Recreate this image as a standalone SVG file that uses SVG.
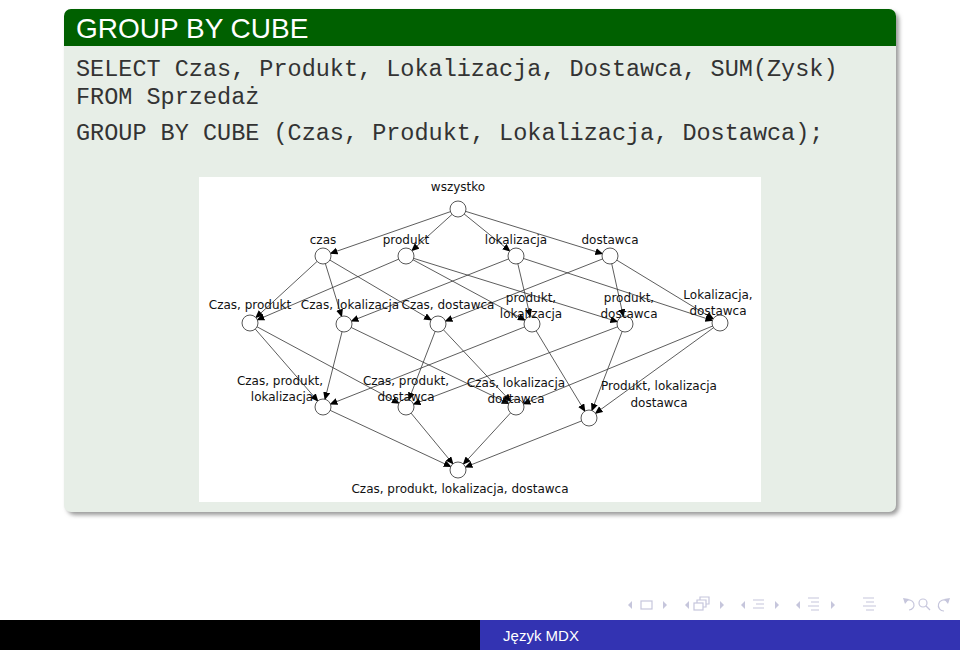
<svg xmlns="http://www.w3.org/2000/svg" width="960" height="650" viewBox="0 0 960 650">
<defs>
<marker id="arr" markerUnits="userSpaceOnUse" markerWidth="20" markerHeight="10" refX="15" refY="3.5" orient="auto">
<path d="M0,0 L8,3.5 L0,7 z" fill="#000"/>
</marker>
<filter id="sh" x="-5%" y="-5%" width="110%" height="110%"><feGaussianBlur stdDeviation="2"/></filter>
<style>
.code{font-family:"Liberation Mono","Courier New",monospace;font-size:23.5px;fill:#333}
.lbl{font-family:"DejaVu Sans","Liberation Sans",sans-serif;font-size:12px;fill:#111;text-anchor:middle}
.n{fill:#fff;stroke:#444;stroke-width:0.9}
.e{stroke:#333;stroke-width:0.8;fill:none;marker-end:url(#arr)}
.nav{fill:none;stroke:#c6c6dc;stroke-width:1.2}
.navf{fill:#c6c6dc}
</style>
</defs>
<rect width="960" height="650" fill="#fff"/>
<!-- block -->
<rect x="67" y="12" width="832" height="503" rx="8" fill="#9a9a9a" filter="url(#sh)"/>
<rect x="64" y="9" width="832" height="503" rx="7" fill="#e7eee7"/>
<path d="M64,46 V16 a7,7 0 0 1 7,-7 H889 a7,7 0 0 1 7,7 V46 z" fill="#006000"/>
<text x="76" y="38" font-family="Liberation Sans,Arial,sans-serif" font-size="28" fill="#fff">GROUP BY CUBE</text>
<text class="code" x="76" y="76">SELECT Czas, Produkt, Lokalizacja, Dostawca, SUM(Zysk)</text>
<text class="code" x="76" y="104">FROM Sprzedaż</text>
<text class="code" x="76" y="140">GROUP BY CUBE (Czas, Produkt, Lokalizacja, Dostawca);</text>
<!-- diagram area -->
<rect x="199" y="177" width="562" height="325" fill="#fff"/>
<g id="connectors">
<line class="e" x1="458" y1="209" x2="323" y2="256"/>
<line class="e" x1="458" y1="209" x2="406" y2="256"/>
<line class="e" x1="458" y1="209" x2="516" y2="256"/>
<line class="e" x1="458" y1="209" x2="610" y2="256"/>
<line class="e" x1="323" y1="256" x2="250" y2="323"/>
<line class="e" x1="323" y1="256" x2="344" y2="324"/>
<line class="e" x1="323" y1="256" x2="438" y2="324"/>
<line class="e" x1="406" y1="256" x2="250" y2="323"/>
<line class="e" x1="406" y1="256" x2="532" y2="324"/>
<line class="e" x1="406" y1="256" x2="625" y2="324"/>
<line class="e" x1="516" y1="256" x2="344" y2="324"/>
<line class="e" x1="516" y1="256" x2="532" y2="324"/>
<line class="e" x1="516" y1="256" x2="720" y2="323"/>
<line class="e" x1="610" y1="256" x2="438" y2="324"/>
<line class="e" x1="610" y1="256" x2="625" y2="324"/>
<line class="e" x1="610" y1="256" x2="720" y2="323"/>
<line class="e" x1="250" y1="323" x2="323" y2="407"/>
<line class="e" x1="250" y1="323" x2="406" y2="407"/>
<line class="e" x1="344" y1="324" x2="323" y2="407"/>
<line class="e" x1="344" y1="324" x2="516" y2="407"/>
<line class="e" x1="438" y1="324" x2="406" y2="407"/>
<line class="e" x1="438" y1="324" x2="516" y2="407"/>
<line class="e" x1="532" y1="324" x2="323" y2="407"/>
<line class="e" x1="532" y1="324" x2="589" y2="418"/>
<line class="e" x1="625" y1="324" x2="406" y2="407"/>
<line class="e" x1="625" y1="324" x2="589" y2="418"/>
<line class="e" x1="720" y1="323" x2="516" y2="407"/>
<line class="e" x1="720" y1="323" x2="589" y2="418"/>
<line class="e" x1="323" y1="407" x2="458" y2="470"/>
<line class="e" x1="406" y1="407" x2="458" y2="470"/>
<line class="e" x1="516" y1="407" x2="458" y2="470"/>
<line class="e" x1="589" y1="418" x2="458" y2="470"/>
</g>
<g id="n_wszystko"><circle class="n" cx="458" cy="209" r="8"/><text class="lbl" x="458" y="191">wszystko</text></g>
<g id="n_czas"><circle class="n" cx="323" cy="256" r="8"/><text class="lbl" x="323" y="244">czas</text></g>
<g id="n_produkt"><circle class="n" cx="406" cy="256" r="8"/><text class="lbl" x="406" y="244">produkt</text></g>
<g id="n_lokalizacja"><circle class="n" cx="516" cy="256" r="8"/><text class="lbl" x="516" y="244">lokalizacja</text></g>
<g id="n_dostawca"><circle class="n" cx="610" cy="256" r="8"/><text class="lbl" x="610" y="244">dostawca</text></g>
<g id="n_cp"><circle class="n" cx="250" cy="323" r="8"/><text class="lbl" x="250" y="309">Czas, produkt</text></g>
<g id="n_cl"><circle class="n" cx="344" cy="324" r="8"/><text class="lbl" x="350" y="309">Czas, lokalizacja</text></g>
<g id="n_cd"><circle class="n" cx="438" cy="324" r="8"/><text class="lbl" x="448" y="309">Czas, dostawca</text></g>
<g id="n_pl"><circle class="n" cx="532" cy="324" r="8"/><text class="lbl" x="531" y="302">produkt,</text><text class="lbl" x="531" y="318">lokalizacja</text></g>
<g id="n_pd"><circle class="n" cx="625" cy="324" r="8"/><text class="lbl" x="629" y="302">produkt,</text><text class="lbl" x="629" y="318">dostawca</text></g>
<g id="n_ld"><circle class="n" cx="720" cy="323" r="8"/><text class="lbl" x="718" y="299">Lokalizacja,</text><text class="lbl" x="718" y="315">dostawca</text></g>
<g id="n_cpl"><circle class="n" cx="323" cy="407" r="8"/><text class="lbl" x="280" y="385">Czas, produkt,</text><text class="lbl" x="282" y="401">lokalizacja</text></g>
<g id="n_cpd"><circle class="n" cx="406" cy="407" r="8"/><text class="lbl" x="406" y="385">Czas, produkt,</text><text class="lbl" x="406" y="401">dostawca</text></g>
<g id="n_cld"><circle class="n" cx="516" cy="407" r="8"/><text class="lbl" x="516" y="387">Czas, lokalizacja</text><text class="lbl" x="516" y="403">dostawca</text></g>
<g id="n_pld"><circle class="n" cx="589" cy="418" r="8"/><text class="lbl" x="659" y="390">Produkt, lokalizacja</text><text class="lbl" x="659" y="407">dostawca</text></g>
<g id="n_all"><circle class="n" cx="458" cy="470" r="8"/><text class="lbl" x="460" y="493">Czas, produkt, lokalizacja, dostawca</text></g>
<!-- navigation symbols -->
<g id="nav">
<path class="navf" d="M632,601 L628,605 L632,609 z"/>
<rect class="nav" x="641" y="601" width="11" height="8"/>
<path class="navf" d="M663,601 L667,605 L663,609 z"/>
<path class="navf" d="M689,601 L685,605 L689,609 z"/>
<rect class="nav" x="694" y="603" width="9" height="7"/>
<path class="nav" d="M697,603 V600 H706 V607 H703 M700,600 V597 H709 V604 H706"/>
<path class="navf" d="M720,601 L724,605 L720,609 z"/>
<path class="navf" d="M745,601 L741,605 L745,609 z"/>
<path class="nav" d="M753,600 H764 M756,604 H764 M753,608 H764"/>
<path class="navf" d="M775,601 L779,605 L775,609 z"/>
<path class="navf" d="M800,601 L796,605 L800,609 z"/>
<path class="nav" d="M808,598 H819 M811,602 H819 M808,606 H819 M811,610 H819"/>
<path class="navf" d="M831,601 L835,605 L831,609 z"/>
<path class="nav" d="M863,598 H874 M866,602 H874 M863,606 H876 M866,610 H874"/>
<path class="nav" d="M906,601 A5,5 0 1 1 909,610"/>
<path class="navf" d="M903,598 L909,599 L905,604 z"/>
<circle class="nav" cx="923" cy="603" r="4"/>
<path class="nav" d="M926,606 L930,610"/>
<path class="nav" d="M947,601 A5.5,5.5 0 1 0 944,611"/>
<path class="navf" d="M950,598 L944,599 L948,604 z"/>
</g>
<!-- footer -->
<rect x="0" y="620" width="480" height="30" fill="#000"/>
<rect x="480" y="620" width="480" height="30" fill="#3333b2"/>
<text x="541" y="641" font-family="Liberation Sans,Arial,sans-serif" font-size="15" fill="#fff" text-anchor="middle">Język MDX</text>
</svg>
